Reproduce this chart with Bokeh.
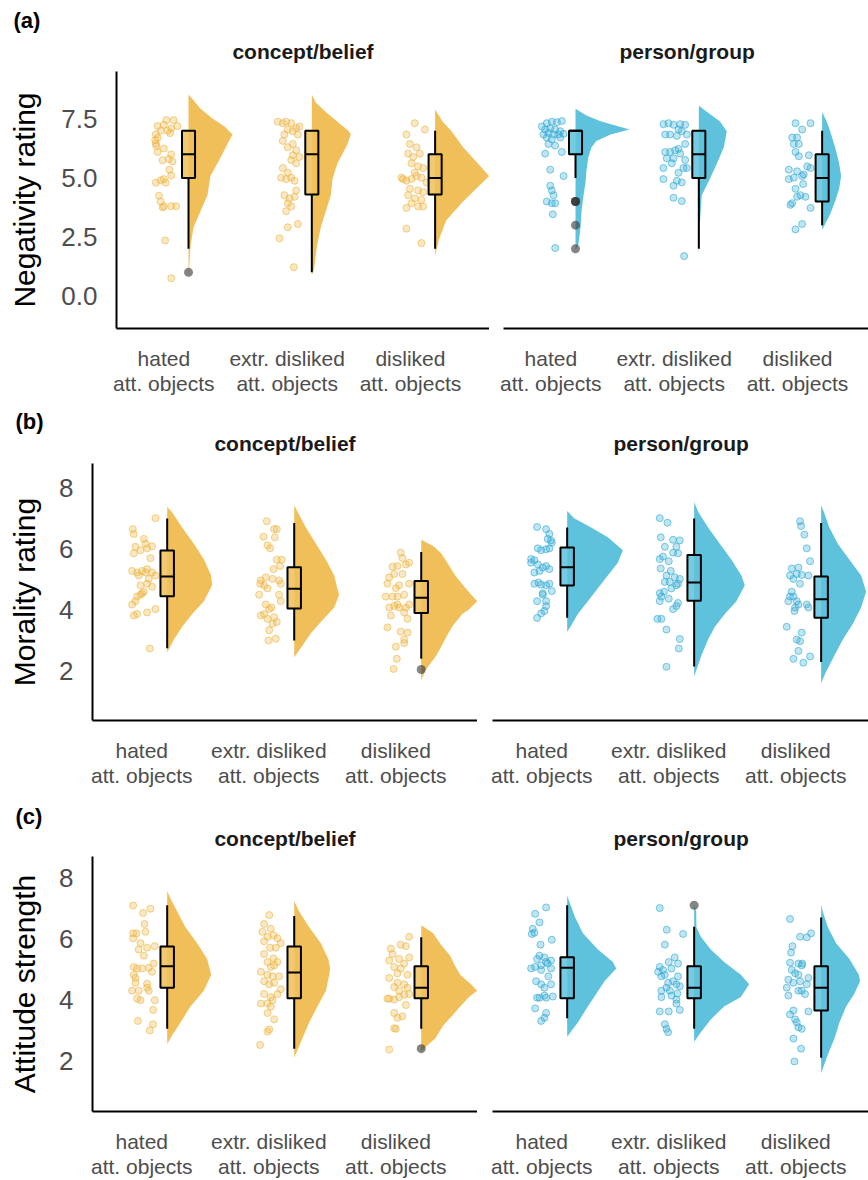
from bokeh.plotting import figure
from bokeh.layouts import column, row
from bokeh.models import Range1d, FixedTicker, Title, PrintfTickFormatter
from bokeh.embed import file_html
from bokeh.resources import INLINE

# ---------------- labels ----------------
CATEGORIES = ["hated\natt. objects", "extr. disliked\natt. objects", "disliked\natt. objects"]
FACETS = ["concept/belief", "person/group"]
Y_TITLES = ["Negativity rating", "Morality rating", "Attitude strength"]
PANEL_TAGS = ["(a)", "(b)", "(c)"]
neg_ticks = [0.0, 2.5, 5.0, 7.5]
mor_ticks = [2, 4, 6, 8]
att_ticks = [2, 4, 6, 8]

# ---------------- (a) Negativity rating : concept/belief ----------------
neg_cb_hated_pts = [(0.02,7.45),(0.08,7.45),(-0.05,7.2),(0.0,7.25),(0.06,7.1),(0.11,7.2),(-0.065,6.85),(-0.025,7.0),(0.03,7.0),(-0.05,6.7),(-0.065,6.45),(-0.05,6.1),(0.0,6.25),(0.06,6.0),(-0.01,5.75),(0.07,5.7),(0.045,5.35),(0.06,5.1),(-0.065,4.8),(-0.025,4.9),(0.0,4.95),(0.015,4.8),(-0.04,4.25),(-0.025,4.0),(0.0,3.8),(0.06,3.8),(0.1,3.8),(-0.01,3.75),(0.01,2.35),(0.06,0.75),(-0.07,6.6),(-0.06,6.35),(0.05,6.9),(0.04,5.8)]
neg_cb_extr_pts = [(-0.076,7.38),(-0.035,7.32),(-0.008,7.38),(0.033,7.32),(0.073,7.11),(0.1,7.18),(0.005,7.05),(0.046,6.98),(-0.022,6.84),(0.087,6.84),(-0.035,6.57),(0.046,6.44),(0.005,6.3),(0.073,6.17),(0.046,5.96),(0.1,5.89),(0.033,5.76),(0.073,5.62),(-0.035,5.42),(0.005,5.22),(-0.049,5.01),(-0.008,4.95),(0.033,5.01),(0.06,4.88),(0.073,4.47),(-0.022,4.27),(0.019,4.13),(0.06,4.2),(0.005,3.93),(0.033,3.79),(-0.008,3.59),(0.087,3.05),(0.005,2.91),(-0.062,2.44),(0.054,1.22)]
neg_cb_disl_pts = [(-0.033,6.84),(0.035,7.32),(0.117,7.05),(-0.005,6.44),(0.049,6.3),(-0.019,6.03),(0.022,5.89),(0.076,6.03),(0.008,5.62),(0.062,5.49),(0.103,5.42),(-0.073,5.01),(-0.033,4.88),(0.008,4.95),(0.049,5.08),(0.089,5.01),(0.13,4.81),(-0.005,4.54),(0.062,4.47),(0.103,4.4),(-0.019,4.27),(0.035,4.13),(0.089,4.07),(0.008,3.93),(-0.033,3.73),(0.062,3.79),(0.103,3.79),(-0.033,2.85),(0.089,2.24),(0.035,5.22),(-0.06,4.95)]
neg_cb_hated_vio = [(8.54,0),(8.34,0.032),(7.93,0.097),(7.52,0.195),(7.18,0.292),(6.84,0.357),(6.44,0.316),(6.03,0.276),(5.62,0.235),(5.08,0.178),(4.27,0.154),(3.59,0.097),(2.91,0.041),(2.1,0.016),(0.75,0)]
neg_cb_extr_vio = [(8.54,0),(8.2,0.032),(7.79,0.114),(7.38,0.208),(6.98,0.3),(6.84,0.316),(6.44,0.29),(6.03,0.249),(5.62,0.208),(4.95,0.168),(4.27,0.154),(3.59,0.114),(2.91,0.073),(2.1,0.041),(1.15,0.019),(0.88,0)]
neg_cb_disl_vio = [(7.9,0),(7.38,0.062),(7.0,0.13),(6.3,0.227),(5.6,0.349),(5.08,0.438),(4.54,0.333),(4.0,0.227),(3.2,0.089),(2.4,0.032),(1.7,0)]
neg_cb_q1 = [5.0, 4.3, 4.3]
neg_cb_med = [6.0, 6.0, 5.0]
neg_cb_q3 = [7.0, 7.0, 6.0]
neg_cb_lo = [2.0, 1.0, 2.0]
neg_cb_hi = [7.0, 7.0, 7.0]
neg_cb_out_cat = [1]
neg_cb_out_y = [1.0]

# ---------------- (a) Negativity rating : person/group ----------------
neg_pg_hated_pts = [(-0.073,7.18),(-0.033,7.32),(0.008,7.38),(0.049,7.36),(0.089,7.41),(-0.046,7.05),(-0.005,7.11),(0.035,7.05),(0.076,6.98),(-0.06,6.84),(-0.019,6.91),(0.022,6.84),(0.062,6.84),(0.103,6.87),(-0.033,6.71),(0.008,6.64),(0.076,6.71),(-0.019,6.44),(0.035,6.37),(0.089,6.1),(-0.046,6.03),(-0.005,5.35),(0.103,5.08),(-0.005,4.67),(0.008,4.47),(0.022,4.27),(-0.033,4.0),(0.008,3.93),(0.035,3.93),(0.016,3.46),(0.035,2.03)]
neg_pg_extr_pts = [(-0.087,7.28),(-0.046,7.32),(-0.005,7.25),(0.049,7.28),(0.089,7.25),(-0.073,6.84),(-0.033,6.84),(0.022,6.78),(0.062,6.98),(0.103,6.84),(0.035,7.05),(0.089,6.44),(0.035,6.23),(-0.073,6.1),(-0.033,6.1),(0.008,6.17),(0.049,6.03),(-0.06,5.83),(-0.005,5.83),(0.089,5.76),(-0.019,5.62),(-0.087,5.42),(0.076,5.42),(0.103,5.42),(0.035,5.22),(-0.087,4.95),(0.022,4.88),(-0.005,4.67),(0.062,4.81),(-0.005,4.16),(0.062,4.02),(0.081,1.69)]
neg_pg_disl_pts = [(-0.016,7.32),(0.106,7.32),(0.038,7.05),(-0.043,6.71),(-0.003,6.71),(-0.03,6.44),(0.011,6.44),(-0.016,6.1),(0.092,5.96),(0.011,5.92),(-0.07,5.35),(-0.003,5.28),(0.106,5.42),(0.079,5.49),(-0.03,5.01),(0.038,5.08),(0.051,5.15),(-0.07,4.95),(-0.016,4.54),(0.024,4.27),(-0.003,4.2),(0.065,4.2),(-0.043,3.93),(0.106,3.73),(0.046,4.74),(0.038,3.05),(-0.016,2.82),(-0.057,3.86)]
neg_pg_hated_vio = [(7.93,0),(7.65,0.089),(7.4,0.203),(7.05,0.438),(6.84,0.284),(6.57,0.17),(6.3,0.13),(5.9,0.105),(5.35,0.089),(4.8,0.081),(4.27,0.065),(3.6,0.049),(2.9,0.041),(2.2,0.024),(1.96,0)]
neg_pg_extr_vio = [(8.06,0),(7.8,0.065),(7.4,0.17),(6.98,0.227),(6.3,0.203),(5.6,0.146),(4.95,0.089),(4.27,0.024),(3.0,0.008),(1.7,0)]
neg_pg_disl_vio = [(7.79,0),(7.38,0.038),(6.98,0.065),(6.3,0.105),(5.62,0.138),(5.08,0.154),(4.54,0.138),(4.0,0.105),(3.46,0.065),(2.91,0.011),(2.8,0)]
neg_pg_q1 = [6.0, 5.0, 4.0]
neg_pg_med = [7.0, 6.0, 5.0]
neg_pg_q3 = [7.0, 7.0, 6.0]
neg_pg_lo = [5.0, 2.0, 3.0]
neg_pg_hi = [7.0, 7.0, 7.0]
neg_pg_out_cat = [1, 1, 1, 1, 1]
neg_pg_out_y = [4.0, 4.0, 4.0, 3.0, 2.0]

# ---------------- (b) Morality rating : concept/belief ----------------
mor_cb_hated_pts = [(-0.071,6.65),(-0.063,6.49),(0.108,7.01),(-0.05,6.07),(0.016,6.33),(0.029,6.17),(-0.063,5.86),(0.081,6.09),(-0.01,5.96),(0.042,6.02),(-0.076,5.28),(-0.037,5.23),(0.003,5.28),(0.042,5.34),(0.081,5.23),(0.055,5.02),(0.108,5.13),(-0.024,5.13),(-0.01,4.81),(0.042,4.86),(0.081,4.76),(0.016,4.6),(-0.037,4.44),(-0.01,4.5),(-0.076,4.18),(-0.05,4.29),(0.003,4.55),(0.042,3.92),(0.108,4.03),(-0.063,3.82),(-0.037,3.87),(0.063,2.74),(0.029,5.23),(0.068,5.7)]
mor_cb_extr_pts = [(-0.016,6.91),(0.042,6.65),(0.063,6.65),(-0.042,6.4),(0.047,6.38),(-0.01,6.12),(0.01,6.02),(0.063,5.65),(0.102,5.65),(0.037,5.34),(0.089,5.44),(-0.063,4.97),(-0.024,5.07),(0.029,5.02),(0.081,4.97),(0.094,4.86),(-0.037,4.81),(-0.01,4.71),(-0.068,4.86),(0.081,4.5),(0.094,4.29),(0.021,4.08),(0.003,4.03),(-0.037,3.87),(-0.063,3.82),(-0.01,3.71),(0.042,3.76),(0.029,3.55),(0.003,3.34),(0.063,3.61),(-0.003,3.0),(0.055,3.06),(-0.024,4.18),(-0.076,4.5)]
mor_cb_disl_pts = [(0.039,5.88),(0.052,5.7),(-0.026,5.42),(0.013,5.44),(0.079,5.49),(0.105,5.55),(-0.052,5.07),(-0.013,5.18),(0.052,5.18),(0.105,4.86),(-0.066,4.86),(0.026,4.81),(-0.079,4.44),(-0.026,4.44),(0.013,4.44),(0.066,4.5),(-0.052,4.08),(-0.013,4.13),(0.026,4.08),(0.079,4.08),(0.105,4.18),(-0.039,3.82),(0.066,3.92),(0.092,3.71),(-0.066,3.43),(0.039,3.29),(0.092,3.26),(0.066,2.92),(0.066,3.03),(0.0,2.8),(0.008,2.4),(-0.018,2.07),(0.013,4.18),(0.0,4.71)]
mor_cb_hated_vio = [(7.38,0),(7.2,0.039),(6.7,0.118),(6.17,0.21),(5.65,0.291),(5.13,0.346),(4.81,0.354),(4.29,0.289),(3.87,0.197),(3.45,0.118),(3.03,0.053),(2.61,0)]
mor_cb_extr_vio = [(7.43,0),(7.22,0.026),(6.7,0.092),(6.17,0.171),(5.65,0.25),(5.13,0.315),(4.6,0.346),(4.5,0.354),(4.08,0.315),(3.66,0.22),(3.24,0.131),(2.82,0.063),(2.45,0)]
mor_cb_disl_vio = [(6.3,0),(6.1,0.094),(5.86,0.157),(5.5,0.213),(5.13,0.268),(4.8,0.331),(4.5,0.394),(4.29,0.441),(4.0,0.37),(3.87,0.323),(3.5,0.252),(3.24,0.213),(2.8,0.157),(2.5,0.118),(2.2,0.063),(2.0,0.031),(1.7,0)]
mor_cb_q1 = [4.45, 4.05, 3.9]
mor_cb_med = [5.1, 4.7, 4.4]
mor_cb_q3 = [5.95, 5.4, 4.95]
mor_cb_lo = [2.75, 3.0, 2.4]
mor_cb_hi = [7.0, 6.85, 5.9]
mor_cb_out_cat = [3]
mor_cb_out_y = [2.05]

# ---------------- (b) Morality rating : person/group ----------------
mor_pg_hated_pts = [(-0.037,6.72),(0.034,6.65),(0.06,6.49),(0.073,6.28),(0.047,6.33),(0.079,6.2),(-0.031,6.02),(-0.005,5.96),(0.034,5.99),(0.06,6.02),(-0.084,5.67),(-0.058,5.63),(-0.031,5.49),(0.008,5.39),(0.034,5.44),(0.06,5.34),(-0.058,5.23),(-0.018,5.28),(-0.058,4.86),(-0.026,4.9),(-0.005,4.83),(0.034,4.81),(0.06,4.86),(0.079,4.62),(0.008,4.55),(-0.037,4.29),(0.034,4.29),(0.034,4.13),(0.021,3.97),(-0.005,3.89),(-0.037,3.74),(0.008,4.5),(-0.084,5.55)]
mor_pg_extr_pts = [(-0.071,7.01),(-0.01,6.86),(-0.063,6.38),(0.034,6.3),(0.087,6.28),(-0.031,6.07),(0.06,6.07),(0.034,5.88),(0.073,5.86),(-0.071,5.67),(-0.045,5.75),(0.0,5.6),(-0.063,5.36),(0.016,5.28),(-0.018,5.13),(0.047,5.07),(0.087,5.02),(0.073,4.86),(0.06,4.81),(0.021,4.71),(-0.037,4.6),(-0.071,4.55),(-0.058,4.44),(0.0,4.37),(-0.071,4.29),(0.073,4.23),(0.06,4.13),(0.034,4.03),(-0.089,3.71),(-0.058,3.71),(-0.018,3.36),(0.087,3.05),(0.079,2.74),(-0.018,2.14),(0.008,4.92),(-0.031,4.92)]
mor_pg_disl_pts = [(0.034,6.91),(0.042,6.75),(0.068,6.47),(0.087,6.02),(0.113,5.6),(-0.031,5.36),(0.021,5.39),(-0.045,5.13),(0.008,5.18),(0.047,5.15),(0.1,5.13),(-0.018,5.02),(-0.045,4.44),(-0.018,4.44),(0.008,4.29),(-0.005,4.08),(0.021,4.18),(0.087,4.18),(0.1,4.08),(-0.058,4.29),(-0.01,3.97),(-0.071,3.45),(0.047,3.26),(0.034,2.98),(0.008,3.03),(0.021,2.66),(-0.018,2.4),(0.06,2.27),(0.113,2.48),(0.034,4.86),(-0.031,4.6)]
mor_pg_hated_vio = [(7.24,0),(7.01,0.055),(6.7,0.189),(6.38,0.32),(5.96,0.439),(5.55,0.399),(5.13,0.32),(4.71,0.242),(4.29,0.163),(3.87,0.084),(3.45,0.026),(3.29,0)]
mor_pg_extr_vio = [(7.54,0),(7.22,0.031),(6.7,0.11),(6.17,0.202),(5.65,0.294),(5.13,0.372),(4.81,0.399),(4.29,0.333),(3.87,0.242),(3.45,0.163),(3.03,0.11),(2.51,0.057),(1.82,0)]
mor_pg_disl_vio = [(7.43,0),(7.22,0.021),(6.7,0.065),(6.17,0.131),(5.65,0.223),(5.13,0.315),(4.6,0.354),(4.08,0.315),(3.55,0.25),(3.03,0.171),(2.51,0.105),(1.98,0.039),(1.61,0)]
mor_pg_q1 = [4.8, 4.3, 3.75]
mor_pg_med = [5.4, 4.9, 4.35]
mor_pg_q3 = [6.05, 5.8, 5.1]
mor_pg_lo = [3.75, 2.15, 2.3]
mor_pg_hi = [6.7, 7.0, 6.85]
mor_pg_out_cat = []
mor_pg_out_y = []

# ---------------- (c) Attitude strength : concept/belief ----------------
att_cb_hated_pts = [(-0.068,7.09),(0.068,6.99),(0.01,6.85),(-0.068,6.18),(-0.042,6.18),(-0.068,6.02),(0.021,6.49),(0.029,6.23),(-0.024,5.65),(0.042,5.71),(0.102,5.76),(-0.01,5.86),(0.016,5.45),(0.094,5.19),(-0.063,5.08),(-0.037,5.03),(0.003,5.03),(0.055,5.05),(-0.063,4.82),(0.081,4.92),(-0.05,4.56),(-0.024,4.3),(-0.076,4.3),(0.042,4.53),(0.055,4.3),(-0.01,3.99),(-0.037,4.04),(0.102,3.99),(0.089,3.67),(-0.031,3.31),(0.089,3.2),(0.063,3.0),(0.042,4.4),(-0.05,4.72)]
att_cb_extr_pts = [(0.003,6.78),(-0.037,6.49),(0.016,6.33),(-0.05,6.23),(-0.01,6.07),(0.037,6.12),(0.068,6.02),(-0.037,5.92),(0.094,5.86),(0.01,5.71),(0.055,5.71),(-0.037,5.5),(0.037,5.36),(-0.01,5.24),(0.068,5.24),(0.016,5.08),(0.042,5.13),(-0.063,4.92),(-0.01,4.82),(0.029,4.77),(-0.037,4.61),(0.003,4.51),(0.042,4.56),(0.094,4.35),(0.068,4.19),(-0.037,4.19),(0.016,4.09),(0.029,3.99),(-0.01,3.88),(-0.063,3.88),(0.016,3.78),(-0.01,3.57),(0.042,3.36),(0.003,3.03),(-0.01,2.96),(-0.068,2.52),(0.081,4.77)]
att_cb_disl_pts = [(0.105,6.07),(0.039,5.81),(0.079,5.76),(-0.039,5.68),(-0.026,5.5),(0.026,5.34),(0.105,5.39),(-0.052,5.29),(0.066,5.19),(-0.013,5.08),(0.039,5.03),(0.013,4.87),(0.092,4.82),(-0.052,4.72),(0.013,4.56),(0.066,4.51),(-0.013,4.42),(0.092,4.4),(0.026,4.3),(-0.052,4.04),(-0.013,4.01),(0.066,4.17),(0.105,4.19),(0.026,4.09),(0.079,3.83),(-0.013,3.57),(0.052,3.46),(0.013,3.41),(0.0,3.05),(-0.013,3.07),(-0.052,2.37),(-0.066,4.04)]
att_cb_hated_vio = [(7.58,0),(7.32,0.026),(6.9,0.079),(6.38,0.144),(5.86,0.236),(5.34,0.315),(4.82,0.346),(4.3,0.289),(3.78,0.183),(3.26,0.105),(2.84,0.039),(2.55,0)]
att_cb_extr_vio = [(7.24,0),(6.9,0.039),(6.38,0.118),(5.86,0.21),(5.34,0.268),(5.03,0.283),(4.82,0.276),(4.3,0.25),(3.78,0.183),(3.26,0.118),(2.74,0.065),(2.1,0)]
att_cb_disl_vio = [(6.45,0),(6.18,0.094),(5.8,0.157),(5.45,0.228),(5.1,0.268),(4.82,0.307),(4.5,0.394),(4.3,0.441),(4.1,0.378),(3.78,0.307),(3.45,0.236),(3.16,0.173),(2.73,0.11),(2.5,0.047),(2.3,0)]
att_cb_q1 = [4.4, 4.05, 4.05]
att_cb_med = [5.1, 4.9, 4.4]
att_cb_q3 = [5.75, 5.75, 5.1]
att_cb_lo = [3.05, 2.4, 3.05]
att_cb_hi = [7.1, 6.75, 6.05]
att_cb_out_cat = [3]
att_cb_out_y = [2.4]

# ---------------- (c) Attitude strength : person/group ----------------
att_pg_hated_pts = [(0.034,7.03),(-0.052,6.82),(-0.018,6.54),(-0.071,6.33),(-0.079,6.16),(-0.058,6.2),(0.079,5.97),(-0.01,5.81),(-0.018,5.45),(-0.037,5.34),(0.021,5.39),(0.073,5.29),(-0.084,5.03),(-0.052,5.08),(-0.005,5.13),(0.047,5.19),(0.073,5.03),(-0.005,4.98),(0.052,4.77),(-0.045,4.61),(-0.005,4.51),(0.073,4.51),(0.021,4.4),(-0.018,4.07),(0.034,4.07),(-0.037,4.07),(0.021,4.14),(0.087,4.11),(-0.052,3.72),(0.034,3.57),(0.021,3.41),(-0.005,3.31),(0.034,5.24)]
att_pg_extr_pts = [(-0.071,7.01),(-0.016,6.3),(0.113,6.16),(-0.031,5.81),(0.047,5.39),(0.0,5.24),(0.073,5.19),(-0.071,5.08),(-0.045,4.98),(-0.084,4.92),(0.021,5.03),(-0.058,4.77),(0.073,4.77),(0.034,4.61),(-0.005,4.56),(0.06,4.51),(0.087,4.45),(-0.018,4.4),(-0.058,4.3),(0.008,4.3),(0.068,4.21),(0.06,4.01),(-0.058,4.09),(0.021,4.14),(-0.071,3.62),(0.0,3.62),(0.087,3.67),(-0.031,3.2),(-0.018,3.05),(-0.005,2.94),(0.06,3.88),(-0.031,4.82)]
att_pg_disl_pts = [(-0.045,6.65),(0.034,6.07),(0.087,6.05),(0.121,6.18),(-0.026,5.76),(-0.037,5.55),(-0.045,5.22),(0.021,5.19),(0.047,5.13),(0.052,5.19),(-0.031,4.98),(-0.005,4.87),(0.021,4.82),(0.1,4.72),(-0.058,4.66),(-0.018,4.56),(0.087,4.51),(0.047,4.3),(0.073,4.19),(-0.071,4.4),(-0.058,4.14),(0.021,4.3),(-0.018,3.65),(0.1,3.62),(-0.045,3.52),(-0.005,3.36),(0.021,3.1),(0.047,3.05),(-0.018,2.73),(0.042,2.4),(-0.01,1.98),(0.008,3.26),(0.034,4.61)]
att_pg_hated_vio = [(7.41,0),(7.12,0.026),(6.7,0.063),(6.18,0.124),(5.65,0.242),(5.24,0.36),(5.03,0.386),(4.61,0.294),(4.19,0.228),(3.78,0.163),(3.26,0.084),(2.79,0)]
att_pg_extr_vio = [(7.12,0),(6.9,0.016),(6.38,0.018),(6.07,0.053),(5.65,0.131),(5.24,0.236),(4.82,0.368),(4.51,0.433),(4.09,0.368),(3.78,0.236),(3.36,0.131),(2.94,0.053),(2.63,0)]
att_pg_disl_vio = [(7.12,0),(6.9,0.013),(6.38,0.053),(5.86,0.118),(5.34,0.223),(4.82,0.297),(4.61,0.307),(4.19,0.26),(3.78,0.197),(3.26,0.144),(2.73,0.105),(2.21,0.053),(1.59,0)]
att_pg_q1 = [4.05, 4.05, 3.65]
att_pg_med = [5.05, 4.4, 4.4]
att_pg_q3 = [5.4, 5.1, 5.1]
att_pg_lo = [3.4, 3.05, 2.1]
att_pg_hi = [7.1, 6.4, 6.7]
att_pg_out_cat = [2]
att_pg_out_y = [7.1]

# ---------------- styling ----------------
YELLOW = "#F0BF5A"
YELLOW_DOT = "#EDB43F"
BLUE = "#5FC2DC"
BLUE_DOT = "#2EA9D3"
FONT = "Liberation Sans"
BOX_OFF = 0.2
BOX_HALF = 0.053

HAS_STANDOFF = "standoff" in Title.properties()


def draw_panel(p, fill, dot, pts_list, vio_list, q1, med, q3, lo, hi, out_cat, out_y):
    for i in range(3):
        x0 = i + 1
        xc = x0 + BOX_OFF
        vio = vio_list[i]
        xs = [xc + w for (v, w) in vio] + [xc for (v, w) in reversed(vio)]
        ys = [v for (v, w) in vio] + [v for (v, w) in reversed(vio)]
        p.patch(xs, ys, fill_color=fill, line_color=None)
        pts = pts_list[i]
        p.scatter([x0 + dx for dx, y in pts], [y for dx, y in pts], size=7,
                  fill_color=dot, fill_alpha=0.3, line_color=dot, line_alpha=0.6, line_width=1)
    xb = [i + 1 + BOX_OFF for i in range(3)]
    p.segment(xb, lo, xb, q1, line_color="black", line_width=2)
    p.segment(xb, q3, xb, hi, line_color="black", line_width=2)
    p.quad(left=[x - BOX_HALF for x in xb], right=[x + BOX_HALF for x in xb], bottom=q1, top=q3,
           fill_color=fill, fill_alpha=0.85, line_color="black", line_width=2)
    p.segment([x - BOX_HALF for x in xb], med, [x + BOX_HALF for x in xb], med,
              line_color="black", line_width=2)
    if out_cat:
        p.scatter([c + BOX_OFF for c in out_cat], out_y, size=9, fill_color="#333333",
                  fill_alpha=0.6, line_color=None)


def make_fig(width, height, x_start, x_end, y_lo, y_hi, bl, bt, bb, facet, f_align, f_off, facet_stand,
             yticks=None, yfmt=None, ytitle=None, ystand=18, tag=None, tag_off=0, tag_stand=0):
    p = figure(width=width, height=height, x_range=Range1d(x_start, x_end),
               y_range=Range1d(y_lo, y_hi), output_backend="svg", toolbar_location=None,
               y_axis_location="left" if yticks is not None else None,
               min_border_left=bl, min_border_right=0, min_border_top=bt, min_border_bottom=bb)
    p.outline_line_color = None
    p.xgrid.grid_line_color = None
    p.ygrid.grid_line_color = None
    p.background_fill_color = "white"
    p.border_fill_color = "white"

    # facet strip title (closest to the frame)
    fkw = dict(text=facet, align=f_align, offset=f_off, text_font=FONT, text_font_size="21px",
               text_font_style="bold", text_color="#1A1A1A")
    if HAS_STANDOFF:
        fkw["standoff"] = facet_stand
    p.add_layout(Title(**fkw), "above")

    # panel tag as the outer (plot) title
    p.title.text = tag if tag is not None else ""
    p.title.align = "left"
    p.title.offset = tag_off
    p.title.text_font = FONT
    p.title.text_font_size = "22px"
    p.title.text_font_style = "bold"
    p.title.text_color = "black"
    if HAS_STANDOFF:
        p.title.standoff = tag_stand

    xa = p.xaxis[0]
    xa.ticker = FixedTicker(ticks=[1, 2, 3])
    xa.major_label_overrides = {1: CATEGORIES[0], 2: CATEGORIES[1], 3: CATEGORIES[2]}
    xa.axis_line_color = "black"
    xa.axis_line_width = 2
    xa.major_tick_line_color = None
    xa.minor_tick_line_color = None
    xa.major_label_text_font = FONT
    xa.major_label_text_font_size = "21px"
    xa.major_label_text_color = "#4D4D4D"
    xa.major_label_text_line_height = 1.1
    xa.major_label_standoff = 12

    if yticks is not None:
        ya = p.yaxis[0]
        ya.ticker = FixedTicker(ticks=yticks)
        ya.formatter = PrintfTickFormatter(format=yfmt)
        ya.axis_line_color = "black"
        ya.axis_line_width = 2
        ya.major_tick_line_color = None
        ya.minor_tick_line_color = None
        ya.major_label_text_font = FONT
        ya.major_label_text_font_size = "26px"
        ya.major_label_text_color = "#4D4D4D"
        ya.major_label_standoff = 13
        ya.axis_label = ytitle
        ya.axis_label_text_font = FONT
        ya.axis_label_text_font_size = "30px"
        ya.axis_label_text_font_style = "normal"
        ya.axis_label_text_color = "black"
        ya.axis_label_standoff = ystand
    return p


# row (a)
a_l = make_fig(489, 397, 0.616, 3.641, -1.38, 9.51, 116, 71, 58, FACETS[0], "center", 0, 17,
               yticks=neg_ticks, yfmt="%.1f", ytitle=Y_TITLES[0], ystand=17,
               tag=PANEL_TAGS[0], tag_off=-103, tag_stand=-7)
draw_panel(a_l, YELLOW, YELLOW_DOT, [neg_cb_hated_pts, neg_cb_extr_pts, neg_cb_disl_pts],
           [neg_cb_hated_vio, neg_cb_extr_vio, neg_cb_disl_vio],
           neg_cb_q1, neg_cb_med, neg_cb_q3, neg_cb_lo, neg_cb_hi, neg_cb_out_cat, neg_cb_out_y)
a_r = make_fig(379, 397, 0.616, 3.576, -1.38, 9.51, 14, 71, 58, FACETS[1], "left", 116, 17)
draw_panel(a_r, BLUE, BLUE_DOT, [neg_pg_hated_pts, neg_pg_extr_pts, neg_pg_disl_pts],
           [neg_pg_hated_vio, neg_pg_extr_vio, neg_pg_disl_vio],
           neg_pg_q1, neg_pg_med, neg_pg_q3, neg_pg_lo, neg_pg_hi, neg_pg_out_cat, neg_pg_out_y)

# row (b)
b_l = make_fig(477, 392, 0.612, 3.643, 0.38, 8.8, 92, 66, 58, FACETS[0], "center", 0, 17,
               yticks=mor_ticks, yfmt="%d", ytitle=Y_TITLES[1], ystand=15,
               tag=PANEL_TAGS[1], tag_off=-77, tag_stand=-25)
draw_panel(b_l, YELLOW, YELLOW_DOT, [mor_cb_hated_pts, mor_cb_extr_pts, mor_cb_disl_pts],
           [mor_cb_hated_vio, mor_cb_extr_vio, mor_cb_disl_vio],
           mor_cb_q1, mor_cb_med, mor_cb_q3, mor_cb_lo, mor_cb_hi, mor_cb_out_cat, mor_cb_out_y)
b_r = make_fig(391, 392, 0.612, 3.573, 0.38, 8.8, 15, 66, 58, FACETS[1], "left", 121, 17)
draw_panel(b_r, BLUE, BLUE_DOT, [mor_pg_hated_pts, mor_pg_extr_pts, mor_pg_disl_pts],
           [mor_pg_hated_vio, mor_pg_extr_vio, mor_pg_disl_vio],
           mor_pg_q1, mor_pg_med, mor_pg_q3, mor_pg_lo, mor_pg_hi, mor_pg_out_cat, mor_pg_out_y)

# row (c)
c_l = make_fig(477, 391, 0.612, 3.643, 0.34, 8.7, 92, 67, 57, FACETS[0], "center", 0, 14,
               yticks=att_ticks, yfmt="%d", ytitle=Y_TITLES[2], ystand=15,
               tag=PANEL_TAGS[2], tag_off=-77, tag_stand=-22)
draw_panel(c_l, YELLOW, YELLOW_DOT, [att_cb_hated_pts, att_cb_extr_pts, att_cb_disl_pts],
           [att_cb_hated_vio, att_cb_extr_vio, att_cb_disl_vio],
           att_cb_q1, att_cb_med, att_cb_q3, att_cb_lo, att_cb_hi, att_cb_out_cat, att_cb_out_y)
c_r = make_fig(391, 391, 0.612, 3.573, 0.34, 8.7, 15, 67, 57, FACETS[1], "left", 121, 14)
draw_panel(c_r, BLUE, BLUE_DOT, [att_pg_hated_pts, att_pg_extr_pts, att_pg_disl_pts],
           [att_pg_hated_vio, att_pg_extr_vio, att_pg_disl_vio],
           att_pg_q1, att_pg_med, att_pg_q3, att_pg_lo, att_pg_hi, att_pg_out_cat, att_pg_out_y)

layout = column(row(a_l, a_r), row(b_l, b_r), row(c_l, c_r))
open("out.html", "w").write(file_html(layout, INLINE))
